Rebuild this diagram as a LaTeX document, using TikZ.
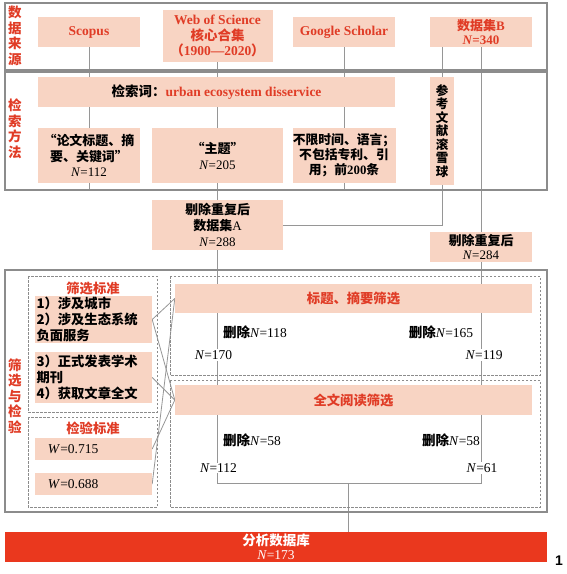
\documentclass[tikz,border=0pt]{standalone}
\usepackage{fontspec}
\setmainfont{Liberation Serif}
\newfontfamily\cjk{Noto Sans CJK SC}
\newfontfamily\sansf{Liberation Sans}
\usetikzlibrary{backgrounds}
\definecolor{pinkfill}{RGB}{248,212,195}
\definecolor{redtxt}{RGB}{224,60,38}
\definecolor{redbar}{RGB}{234,56,30}
\definecolor{framec}{RGB}{140,140,140}
\definecolor{connc}{RGB}{150,150,150}
\newcommand{\zh}[1]{{\cjk\bfseries #1}}
\tikzset{
  pbox/.style={fill=pinkfill, draw=none, inner sep=0pt, align=center, font=\fontsize{12.8}{15}\selectfont},
  ttl/.style={text=redtxt, font=\fontsize{13.5}{15.5}\selectfont\bfseries},
  ttlzh/.style={text=redtxt, font=\fontsize{13.3}{15}\selectfont\cjk\bfseries},
  sidelbl/.style={text=redtxt, align=center, inner sep=0pt, font=\fontsize{13.5}{15.5}\selectfont\cjk\bfseries},
  lbl/.style={inner sep=1pt, font=\fontsize{13.5}{15}\selectfont},
  conn/.style={draw=connc, line width=0.8pt},
  frameline/.style={draw=framec, line width=1.3pt},
  dbox/.style={draw=framec, line width=0.8pt, dash pattern=on 2.5pt off 1.5pt},
  crit/.style={pbox, minimum width=117pt, text width=114pt, inner xsep=1.5pt, align=left, font=\fontsize{13.3}{16}\selectfont\cjk\bfseries},
  wbox/.style={pbox, minimum width=117pt, minimum height=22pt, text width=91pt, inner xsep=13pt, align=left, font=\fontsize{13.5}{15}\selectfont}
}
\begin{document}
\begin{tikzpicture}[x=1pt,y=-1pt]
\useasboundingbox (0,0) rectangle (566,574);
% frames
\draw[frameline] (5,3) rectangle (547,70);
\draw[frameline] (5,72) rectangle (547,190);
\draw[frameline] (5,270) rectangle (547,512);
\coordinate (f2b) at (0,190);
\coordinate (hl) at (0,483);
\coordinate (mid) at (348,483);
% side labels
\node[sidelbl] (L1) at (15,36) {数\\据\\来\\源};
\node[sidelbl] (L2) at (15,129) {检\\索\\方\\法};
\node[sidelbl] (L3) at (15,396) {筛\\选\\与\\检\\验};
% sources
\node[pbox, ttl, minimum width=102pt, minimum height=30pt] (scopus) at (89,32) {Scopus};
\node[pbox, ttl, minimum width=110pt, minimum height=52pt] (wos) at (217.5,36) {Web of Science\\\zh{核心合集}\\\zh{（}1900—2020\zh{）}};
\node[pbox, ttl, minimum width=102pt, minimum height=30pt] (gs) at (344,32) {Google Scholar};
\node[pbox, ttl, minimum width=102pt, minimum height=30pt, font=\fontsize{13}{14}\selectfont\bfseries] (dsB) at (481,32) {\zh{数据集}B\\\textit{N}=340};
% search
\node[pbox, minimum width=357pt, minimum height=30pt, font=\fontsize{13.5}{15}\selectfont\bfseries] (search) at (216.5,92) {\zh{检索词：}\textcolor{redtxt}{urban ecosystem disservice}};
\node[pbox, minimum width=102pt, minimum height=55pt, font=\fontsize{13}{15.5}\selectfont] (t1) at (89,155.5) {\zh{“论文标题、摘}\\\zh{要、关键词”}\\\textit{N}=112};
\node[pbox, minimum width=131pt, minimum height=55pt, font=\fontsize{13}{16}\selectfont] (t2) at (217.5,155.5) {\zh{“主题”}\\\textit{N}=205};
\node[pbox, minimum width=103pt, minimum height=55pt] (t3) at (344,155.5) {\zh{不限时间、语言；}\\\zh{不包括专利、引}\\\zh{用；前}\textbf{200}\zh{条}};
\node[pbox, minimum width=24pt, minimum height=108pt, font=\fontsize{12.5}{13.5}\selectfont\cjk\bfseries] (snow) at (442,131) {参\\考\\文\\献\\滚\\雪\\球};
% dedup
\node[pbox, minimum width=131pt, minimum height=50pt, font=\fontsize{13}{16}\selectfont] (dsA) at (217.5,225) {\zh{剔除重复后}\\\zh{数据集}A\\\textit{N}=288};
\node[pbox, minimum width=102pt, minimum height=30pt, font=\fontsize{13}{14.5}\selectfont] (dd284) at (481,247) {\zh{剔除重复后}\\\textit{N}=284};
% criteria
\draw[dbox] (28,276) rectangle (157,412);
\node[ttlzh, inner sep=0pt] (critT) at (93,288) {筛选标准};
\node[crit, minimum height=47pt] (c12) at (93.5,319.5) {1）涉及城市\\2）涉及生态系统\\负面服务};
\node[crit, minimum height=51pt] (c34) at (93.5,377.5) {3）正式发表学术\\期刊\\4）获取文章全文};
\draw[dbox] (28,417) rectangle (157,507);
\node[ttlzh, inner sep=0pt] (testT) at (93,428) {检验标准};
\node[wbox] (w1) at (93.5,449) {\textit{W}=0.715};
\node[wbox] (w2) at (93.5,484) {\textit{W}=0.688};
% screening
\draw[dbox] (170,276) rectangle (540,375);
\node[pbox, ttlzh, minimum width=357pt, minimum height=29pt] (bar1) at (353.5,298.5) {标题、摘要筛选};
\draw[dbox] (170,380) rectangle (540,507);
\node[pbox, ttlzh, minimum width=357pt, minimum height=30pt] (bar2) at (353.5,400) {全文阅读筛选};
\node[lbl] (d118) at (255,332) {\zh{删除}\textit{N}=118};
\node[lbl, fill=white] (n170) at (213.5,355) {\textit{N}=170};
\node[lbl] (d165) at (441,332) {\zh{删除}\textit{N}=165};
\node[lbl, fill=white] (n119) at (484,355) {\textit{N}=119};
\node[lbl] (d58a) at (252,440) {\zh{删除}\textit{N}=58};
\node[lbl, fill=white] (n112) at (218.5,468) {\textit{N}=112};
\node[lbl] (d58b) at (451,440) {\zh{删除}\textit{N}=58};
\node[lbl, fill=white] (n61) at (482,468) {\textit{N}=61};
% result
\node[fill=redbar, minimum width=542pt, minimum height=30pt, inner sep=0pt, text=white, align=center, font=\fontsize{13.5}{14}\selectfont] (db) at (276,547) {\zh{分析数据库}\\\textit{N}=173};
\node[inner sep=0pt, font=\fontsize{14}{14}\selectfont\sansf\bfseries] (fig) at (559,561) {1};
% connectors
\begin{scope}[on background layer]
\draw[conn] (scopus.south) -- (scopus.south |- f2b);
\draw[conn] (wos.south) -- (dsA.north);
\draw[conn] (gs.south) -- (gs.south |- f2b);
\draw[conn] (dsB.south -| snow.north) -- (snow.north);
\draw[conn] (snow.south) |- (dsA.east);
\draw[conn] (dsB.south) -- (dd284.north);
\draw[conn] (dsA.south) -- (dsA.south |- hl) -- (dd284.south |- hl) -- (dd284.south);
\draw[conn] (mid) -- (mid |- db.north);
\draw[conn] (c12.east) -- (bar1.west);
\draw[conn] (c12.east) -- (bar2.west);
\draw[conn] (c34.east) -- (bar2.west);
\draw[conn] (w1.east) -- (bar2.west);
\draw[conn] (w2.east) -- (bar1.west);
\end{scope}
\end{tikzpicture}
\end{document}
